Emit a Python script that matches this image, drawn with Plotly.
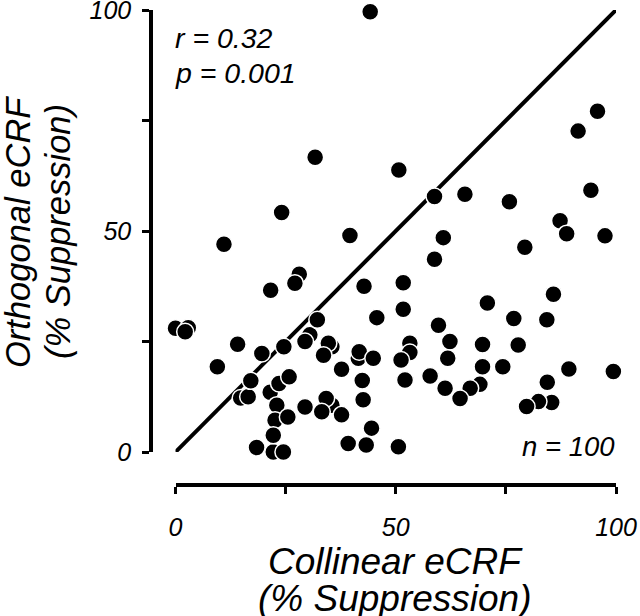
import plotly.graph_objects as go

# Collinear eCRF (% suppression)
collinear = [
    0.0, 2.9, 30.5, 35.5, 41.5, 14.8, 21.5, 23.5, 22.2, 35.5, 53.2, 53.2, 69.1, 85.4, 28.1,
    44.2, 31.7, 24.1, 39.6, 11.0, 50.7, 58.8, 65.7, 75.8, 95.8, 91.4, 94.3, 87.3, 88.8, 97.5,
    60.8, 58.8, 79.3, 21.6, 27.1, 42.8, 45.7, 2.2, 14.1, 9.5, 19.6, 24.6, 32.2, 29.4, 34.7,
    33.6, 41.7, 44.9, 37.7, 25.8, 42.4, 42.6, 44.5, 43.3, 39.2, 16.5, 17.1, 23.0, 22.6, 22.2,
    18.4, 24.5, 25.5, 29.4, 34.2, 33.2, 37.7, 51.7, 51.7, 70.8, 85.8, 84.3, 76.8, 59.7, 62.3,
    69.7, 77.8, 51.2, 61.8, 69.7, 74.3, 52.1, 57.8, 61.2, 66.9, 64.6, 89.3, 99.4, 84.4, 82.4,
    79.7, 50.6,
]
# Orthogonal eCRF (% suppression)
orthogonal = [
    28.0, 28.1, 26.5, 23.8, 21.2, 12.2, 13.5, 15.5, 0.0, 10.6, 24.6, 22.5, 15.3, 11.2, 40.2,
    99.6, 66.7, 54.2, 49.0, 47.0, 63.8, 57.8, 58.3, 56.6, 77.1, 72.6, 59.2, 52.3, 49.4, 48.9,
    48.5, 43.6, 46.3, 36.6, 38.2, 37.5, 30.4, 27.2, 24.4, 19.3, 22.3, 23.8, 29.9, 25.0, 24.6,
    21.9, 22.7, 21.2, 18.7, 17.0, 16.2, 11.8, 5.4, 1.6, 1.9, 12.5, 16.1, 10.6, 7.2, 3.8,
    1.0, 0.0, 7.9, 10.2, 12.1, 9.1, 8.4, 38.3, 32.3, 33.7, 35.7, 29.9, 30.2, 28.7, 25.0,
    24.3, 24.2, 20.8, 21.2, 19.3, 19.3, 16.3, 17.2, 14.4, 14.4, 12.1, 18.8, 18.2, 15.8, 11.4,
    10.3, 1.2,
]
unity = [0, 100]
tick_vals = [0, 25, 50, 75, 100]
tick_text = ["0", "", "50", "", "100"]
stats_lines = ["r = 0.32", "p = 0.001"]
n_label = "n = 100"
x_title = ["Collinear eCRF", "(% Suppression)"]
y_title = ["Orthogonal eCRF", "(% Suppression)"]

FONT = "Arial, Liberation Sans, sans-serif"
W, H = 640, 616

fig = go.Figure()
fig.add_trace(go.Scatter(
    x=unity, y=unity, mode="lines",
    line=dict(color="black", width=4), hoverinfo="skip", cliponaxis=False,
))
fig.add_trace(go.Scatter(
    x=collinear, y=orthogonal, mode="markers", cliponaxis=False,
    marker=dict(size=17, color="black", line=dict(color="white", width=1.5)),
))

axis_common = dict(
    range=[0, 100], tickvals=tick_vals, ticktext=tick_text,
    showline=True, linecolor="black", linewidth=3.5,
    ticks="outside", ticklen=7, tickwidth=3, tickcolor="black",
    showgrid=False, zeroline=False, automargin=False,
    ticklabeloverflow="allow",
    tickfont=dict(family=FONT, size=25, color="black", style="italic"),
)

fig.update_layout(
    width=W, height=H, margin=dict(l=0, r=0, t=0, b=0, pad=0, autoexpand=False),
    paper_bgcolor="white", plot_bgcolor="white", showlegend=False,
    xaxis=dict(domain=[175.5 / W, 616 / W], anchor="free", position=(H - 485) / H,
               ticklabelstandoff=12, **axis_common),
    yaxis=dict(domain=[(H - 452) / H, (H - 10) / H], anchor="free", position=151 / W,
               ticklabelstandoff=6, **axis_common),
)

def ann(text, x, y, size, xanchor="center", angle=0):
    fig.add_annotation(
        text=text, x=x / W, y=1 - y / H, xref="paper", yref="paper",
        xanchor=xanchor, yanchor="middle", showarrow=False, textangle=angle,
        font=dict(family=FONT, size=size, color="black", style="italic"),
    )

ann(stats_lines[0], 173, 38, 28.5, xanchor="left")
ann(stats_lines[1], 173, 73, 28.5, xanchor="left")
ann(n_label, 617, 446, 27.5, xanchor="right")
ann(x_title[0], 395, 561, 37)
ann(x_title[1], 395, 598, 37)
ann(y_title[0], 18, 232, 34.5, angle=-90)
ann(y_title[1], 58, 232, 34.5, angle=-90)

fig.write_html(
    "out.html",
    config={"displayModeBar": False},
    post_script="document.body.style.margin='0';document.body.style.overflow='hidden';",
)
